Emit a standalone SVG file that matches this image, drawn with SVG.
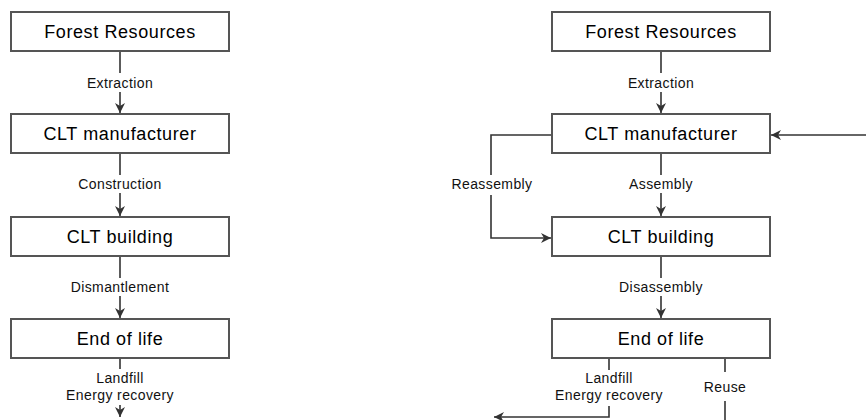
<svg xmlns="http://www.w3.org/2000/svg" width="866" height="420" viewBox="0 0 866 420">
<style>
.box{fill:#fff;stroke:#555;stroke-width:2}
.bt{font-family:"Liberation Sans",Arial,sans-serif;font-size:18px;letter-spacing:0.6px;fill:#000;text-anchor:middle}
.lt{font-family:"Liberation Sans",Arial,sans-serif;font-size:14px;letter-spacing:0.4px;fill:#111;text-anchor:middle}
.ln{fill:none;stroke:#333;stroke-width:1.6}
</style>
<defs>
<marker id="ah" markerUnits="userSpaceOnUse" markerWidth="11" markerHeight="11" refX="10" refY="5" orient="auto">
<path d="M0,0 L10,5 L0,10 L3,5 z" fill="#333"/>
</marker>
</defs>
<rect width="866" height="420" fill="#fff"/>
<g id="connectors">
<path class="ln" d="M120,51 V73"/><path class="ln" d="M120,92 V113" marker-end="url(#ah)"/>
<path class="ln" d="M120,153 V175"/><path class="ln" d="M120,193 V216" marker-end="url(#ah)"/>
<path class="ln" d="M120,256 V278"/><path class="ln" d="M120,296 V318" marker-end="url(#ah)"/>
<path class="ln" d="M120,358 V369"/><path class="ln" d="M120,405 V417" marker-end="url(#ah)"/>
<text class="lt" x="120" y="88">Extraction</text>
<text class="lt" x="120" y="189">Construction</text>
<text class="lt" x="120" y="292">Dismantlement</text>
<text class="lt" x="120" y="383">Landfill</text>
<text class="lt" x="120" y="400">Energy recovery</text>
<path class="ln" d="M661,51 V73"/><path class="ln" d="M661,92 V113" marker-end="url(#ah)"/>
<path class="ln" d="M661,153 V175"/><path class="ln" d="M661,193 V216" marker-end="url(#ah)"/>
<path class="ln" d="M661,256 V278"/><path class="ln" d="M661,296 V318" marker-end="url(#ah)"/>
<path class="ln" d="M552,135 H491 V175"/><path class="ln" d="M491,195 V238 H551" marker-end="url(#ah)"/>
<path class="ln" d="M866,135 H771" marker-end="url(#ah)"/>
<path class="ln" d="M609,358 V370"/><path class="ln" d="M609,406 V417 H494" marker-end="url(#ah)"/>
<path class="ln" d="M725,358 V372"/><path class="ln" d="M725,401 V420"/>
<text class="lt" x="661" y="88">Extraction</text>
<text class="lt" x="661" y="189">Assembly</text>
<text class="lt" x="661" y="292">Disassembly</text>
<text class="lt" x="492" y="189">Reassembly</text>
<text class="lt" x="609" y="383">Landfill</text>
<text class="lt" x="609" y="400">Energy recovery</text>
<text class="lt" x="725" y="392">Reuse</text>
</g>
<g id="l-forest"><rect class="box" x="11" y="12" width="218" height="39"/><text class="bt" x="120" y="38">Forest Resources</text></g>
<g id="l-manuf"><rect class="box" x="11" y="114" width="218" height="39"/><text class="bt" x="120" y="140">CLT manufacturer</text></g>
<g id="l-building"><rect class="box" x="11" y="217" width="218" height="39"/><text class="bt" x="120" y="243">CLT building</text></g>
<g id="l-end"><rect class="box" x="11" y="319" width="218" height="39"/><text class="bt" x="120" y="345">End of life</text></g>
<g id="r-forest"><rect class="box" x="552" y="12" width="218" height="39"/><text class="bt" x="661" y="38">Forest Resources</text></g>
<g id="r-manuf"><rect class="box" x="552" y="114" width="218" height="39"/><text class="bt" x="661" y="140">CLT manufacturer</text></g>
<g id="r-building"><rect class="box" x="552" y="217" width="218" height="39"/><text class="bt" x="661" y="243">CLT building</text></g>
<g id="r-end"><rect class="box" x="552" y="319" width="218" height="39"/><text class="bt" x="661" y="345">End of life</text></g>
</svg>
